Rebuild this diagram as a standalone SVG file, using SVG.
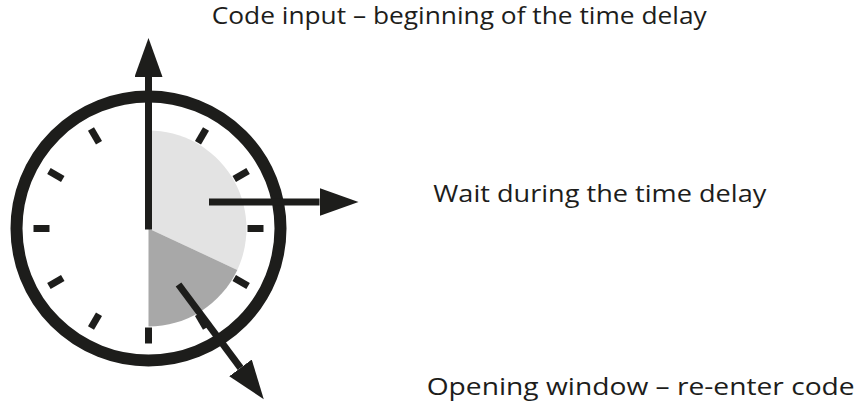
<svg xmlns="http://www.w3.org/2000/svg" width="860" height="407" viewBox="0 0 860 407">
<style>
.lbl{font-family:"Open Sans",Lato,"Liberation Sans",sans-serif;font-size:24.5px;fill:#1d1d1b}
.tick{stroke:#1d1d1b;stroke-width:7;fill:none}
.hand{stroke:#1d1d1b;stroke-width:7;fill:none}
</style>
<defs>
<marker id="ah" markerUnits="userSpaceOnUse" markerWidth="40" markerHeight="28" refX="0" refY="14" orient="auto">
<path d="M0,0 L39,14 L0,28 z" fill="#1d1d1b"/>
</marker>
</defs>
<rect width="860" height="407" fill="#ffffff"/>
<g id="clock">
<path d="M148.5,228.5 L148.5,130.5 A98,98 0 0 1 237.3,269.9 Z" fill="#e3e3e3"/>
<path d="M148.5,228.5 L237.3,269.9 A98,98 0 0 1 148.5,326.5 Z" fill="#a8a8a8"/>
<circle cx="148.5" cy="228.5" r="132" fill="none" stroke="#1d1d1b" stroke-width="12"/>
<g transform="translate(148.5,228.5)">
<line class="tick" x1="0" y1="-99" x2="0" y2="-115" transform="rotate(30)"/>
<line class="tick" x1="0" y1="-99" x2="0" y2="-115" transform="rotate(60)"/>
<line class="tick" x1="0" y1="-99" x2="0" y2="-115" transform="rotate(90)"/>
<line class="tick" x1="0" y1="-99" x2="0" y2="-115" transform="rotate(120)"/>
<line class="tick" x1="0" y1="-99" x2="0" y2="-115" transform="rotate(150)"/>
<line class="tick" x1="0" y1="-99" x2="0" y2="-115" transform="rotate(180)"/>
<line class="tick" x1="0" y1="-99" x2="0" y2="-115" transform="rotate(210)"/>
<line class="tick" x1="0" y1="-99" x2="0" y2="-115" transform="rotate(240)"/>
<line class="tick" x1="0" y1="-99" x2="0" y2="-115" transform="rotate(270)"/>
<line class="tick" x1="0" y1="-99" x2="0" y2="-115" transform="rotate(300)"/>
<line class="tick" x1="0" y1="-99" x2="0" y2="-115" transform="rotate(330)"/>
</g>
</g>
<g id="connectors">
<line class="hand" x1="148.5" y1="229.5" x2="148.5" y2="77" marker-end="url(#ah)"/>
<line class="hand" x1="209" y1="202" x2="319.5" y2="202" marker-end="url(#ah)"/>
<line class="hand" x1="178.5" y1="284.5" x2="240.5" y2="367.9" marker-end="url(#ah)"/>
</g>
<g id="label-code-input">
<text class="lbl" x="211.7" y="24.3" textLength="495" lengthAdjust="spacingAndGlyphs">Code input – beginning of the time delay</text>
</g>
<g id="label-wait">
<text class="lbl" x="433.3" y="201.7" textLength="333" lengthAdjust="spacingAndGlyphs">Wait during the time delay</text>
</g>
<g id="label-opening">
<text class="lbl" x="426.7" y="395" textLength="428" lengthAdjust="spacingAndGlyphs">Opening window – re-enter code</text>
</g>
</svg>
